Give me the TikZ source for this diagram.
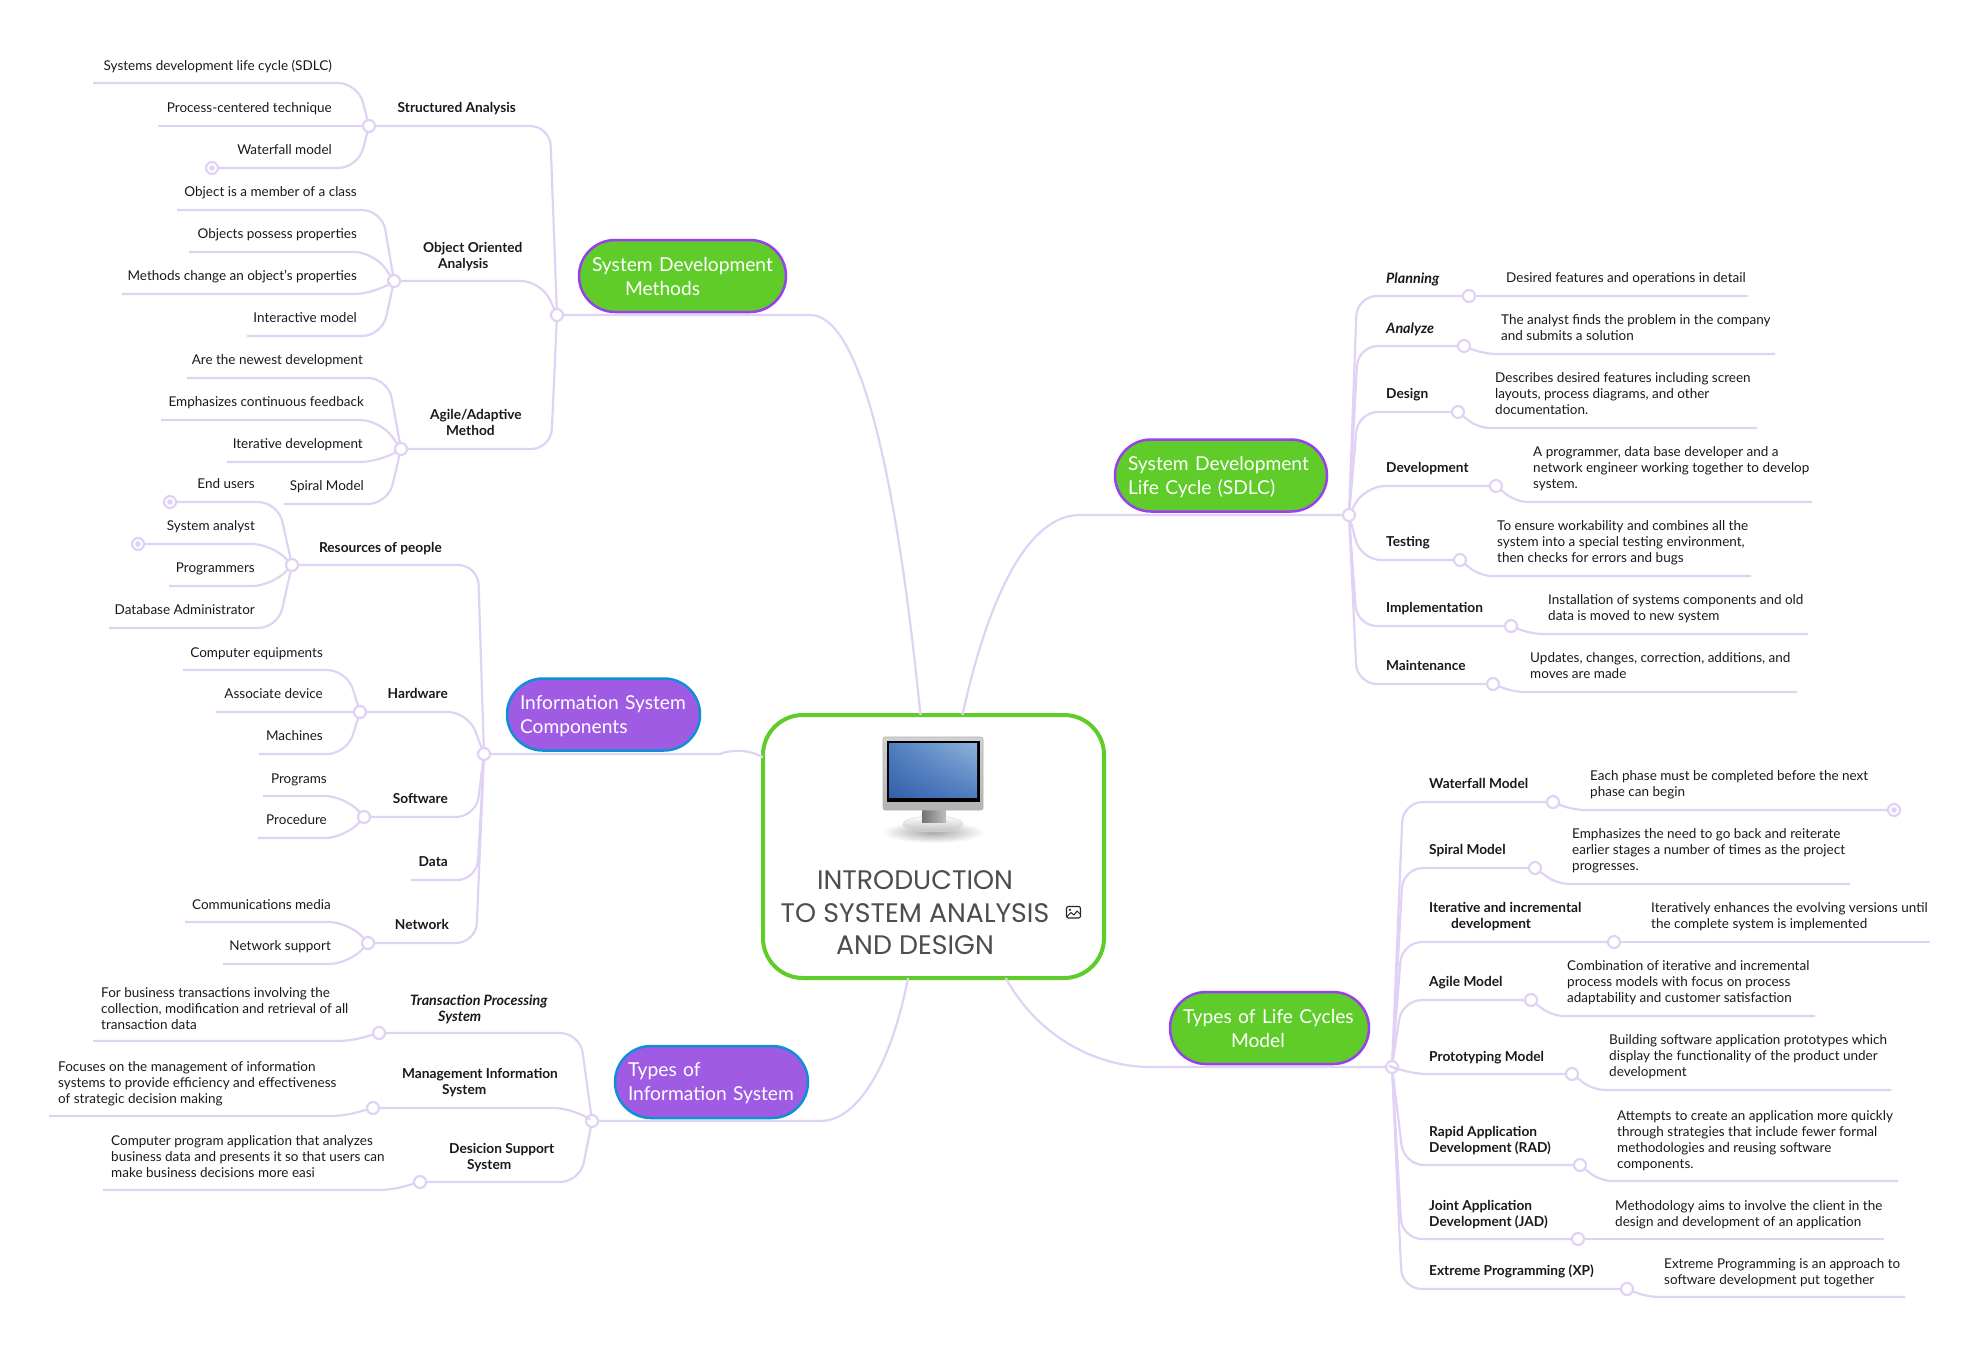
\documentclass[tikz,border=0pt]{standalone}
\usepackage{fontspec}
\setmainfont{Lato}
\newfontfamily\titlefont{Poppins}
\usetikzlibrary{shadings}
\definecolor{linecol}{HTML}{E0D2F5}
\definecolor{greenfill}{HTML}{5FCC29}
\definecolor{violetedge}{HTML}{9A3FF0}
\definecolor{violetfill}{HTML}{A05BE5}
\definecolor{blueedge}{HTML}{0F8FD6}
\definecolor{rootink}{HTML}{4A4E52}
\definecolor{screenlow}{HTML}{3560AC}
\definecolor{screenmid}{HTML}{4F7FC0}
\definecolor{screenhigh}{HTML}{8FB3DC}
\tikzset{
  branch/.style={draw=linecol,line width=2.2pt,rounded corners=20pt},
  twig/.style={draw=linecol,line width=2.2pt,rounded corners=12pt},
  hub/.style={circle,draw=linecol,line width=2.2pt,fill=white,minimum size=12pt,inner sep=0pt,outer sep=0pt},
  hubdot/.style={hub,path picture={\fill[linecol] (path picture bounding box.center) circle (2.8pt);}},
  % y of a text node is the centre of its last line
  leaf/.style={font=\fontsize{13.5}{16}\selectfont,align=left,inner sep=0pt,text height=13pt,text depth=3pt,text=black!90},
  head/.style={leaf,font=\fontsize{13.7}{16}\selectfont\bfseries},
  headit/.style={leaf,font=\fontsize{14.3}{16}\selectfont\bfseries\itshape},
  topic/.style={rectangle,rounded corners=36pt,line width=2.5pt,text=white,align=left,minimum height=72pt,inner xsep=13pt,inner ysep=0pt,outer sep=0pt,text depth=24pt,font=\fontsize{19.2}{24}\selectfont},
  greentopic/.style={topic,draw=violetedge,fill=greenfill},
  violettopic/.style={topic,draw=blueedge,fill=violetfill},
}
\begin{document}
\begin{tikzpicture}[x=1pt,y=-1pt]
\useasboundingbox (0,0) rectangle (1979,1345);

% central node
\node[rectangle,draw=greenfill,line width=4pt,fill=white,rounded corners=40pt,minimum width=341pt,minimum height=263pt,outer sep=0pt] (root) at (933.5,846.5) {};
\node[align=center,inner sep=0pt,text=rootink,font=\titlefont\fontsize{26.8}{32.5}\selectfont] (title) at (915,913) {INTRODUCTION\\TO SYSTEM ANALYSIS\\AND DESIGN};

% monitor
\shade[inner color=black!35,outer color=white] (933,832) ellipse [x radius=52,y radius=11];
\shade[top color=white,bottom color=black!25,draw=black!15,line width=.5pt] (933,824) ellipse [x radius=30,y radius=8];
\shade[left color=black!55,right color=black!25] (922,808) rectangle (946,822);
\shade[top color=black!18,bottom color=black!30,draw=black!30,line width=.6pt,rounded corners=2pt] (883,737) rectangle (983,810);
\fill[black] (887,741) rectangle (980,802);
\shade[lower left=screenlow,upper right=screenhigh,lower right=screenmid,upper left=screenmid] (889,743) rectangle (977,797);

% image icon
\draw[black!85,line width=1.1pt,rounded corners=2pt] (1066.5,906.5) rectangle (1080.5,918);
\fill[black!85] (1070,909.8) circle (1.3);
\draw[black!85,line width=1pt,line join=round] (1067,916.5) -- (1071,912.5) -- (1074,915) -- (1077,911) -- (1080,914);

% hubs
\node[hub] (hubMethods) at (557,315) {};
\node[hub] (hubSdlc) at (1349,515) {};
\node[hub] (hubInfo) at (484,754) {};
\node[hub] (hubLife) at (1392,1067) {};
\node[hub] (hubTypes) at (592,1121) {};
\node[hub] (hubStruct) at (369,126) {};
\node[hub] (hubObject) at (394,281) {};
\node[hub] (hubAgile) at (401,449) {};
\node[hub] (hubPeople) at (292,565) {};
\node[hub] (hubHard) at (360,712) {};
\node[hub] (hubSoft) at (364,817) {};
\node[hub] (hubNet) at (368,943) {};

% main connectors
\draw[branch] (hubMethods) -- (790,315) .. controls (870,315) and (903,540) .. (root);
\draw[branch] (hubSdlc) -- (1100,515) .. controls (1030,515) and (990,590) .. (root);
\draw[branch] (hubInfo) -- (700,754) .. controls (720,754) and (740,745) .. (root);
\draw[branch] (hubLife) -- (1170,1067) .. controls (1100,1067) and (1040,1040) .. (root);
\draw[branch] (hubTypes) -- (800,1121) .. controls (860,1121) and (892,1060) .. (root);

% topics
\node[greentopic,text width=181pt] (topicMethods) at (682.5,276) {\mbox{System Development}\\\hspace*{33pt}Methods};
\node[greentopic,text width=186pt] (topicSdlc) at (1221,475.5) {\mbox{System Development}\\Life Cycle (SDLC)};
\node[violettopic,text width=167pt] (topicInfo) at (603.5,714.5) {\mbox{Information System}\\Components};
\node[greentopic,text width=173pt] (topicLife) at (1269.5,1028) {\mbox{Types of Life Cycles}\\\hspace*{48pt}Model};
\node[violettopic,text width=167pt] (topicTypes) at (711.5,1082) {Types of\\\mbox{Information System}};

% system development methods
\draw[branch] (hubStruct) -- (550,126) -- (hubMethods);
\draw[branch] (hubObject) -- (541,281) -- (hubMethods);
\draw[branch] (hubAgile) -- (551,449) -- (hubMethods);
\node[head,anchor=east] (structured) at (516,107) {Structured Analysis};
\node[head,anchor=west] (objectOriented) at (423,263) {Object Oriented\\\hspace*{15pt}Analysis};
\node[head,anchor=west] (agileMethod) at (430,430) {Agile/Adaptive\\\hspace*{16pt}Method};

\node[leaf,anchor=east] (sdlcTerm) at (332,65) {Systems development life cycle (SDLC)};
\coordinate (sdlcEnd) at (93,83);
\draw[branch] (hubStruct) -- (358,83) -- (sdlcEnd);
\node[leaf,anchor=east] (processTerm) at (332,107) {Process-centered technique};
\coordinate (processEnd) at (158,126);
\draw[branch] (hubStruct) -- (processEnd);
\node[leaf,anchor=east] (waterTerm) at (332,149) {Waterfall model};
\node[hubdot] (waterEnd) at (212,168) {};
\draw[branch] (hubStruct) -- (358,168) -- (waterEnd);

\node[leaf,anchor=east] (memberTerm) at (357,191) {Object is a member of a class};
\coordinate (memberEnd) at (177,210);
\draw[branch] (hubObject) -- (382,210) -- (memberEnd);
\node[leaf,anchor=east] (possessTerm) at (357,233) {Objects possess properties};
\coordinate (possessEnd) at (189,252);
\draw[branch] (hubObject) -- (374,252) -- (possessEnd);
\node[leaf,anchor=east] (changeTerm) at (357,275) {Methods change an object’s properties};
\coordinate (changeEnd) at (122,294);
\draw[branch] (hubObject) -- (374,294) -- (changeEnd);
\node[leaf,anchor=east] (interTerm) at (357,317) {Interactive model};
\coordinate (interEnd) at (247,336);
\draw[branch] (hubObject) -- (382,336) -- (interEnd);

\node[leaf,anchor=east] (newestTerm) at (363,359) {Are the newest development};
\coordinate (newestEnd) at (187,378);
\draw[branch] (hubAgile) -- (388,378) -- (newestEnd);
\node[leaf,anchor=east] (feedTerm) at (364,401) {Emphasizes continuous feedback};
\coordinate (feedEnd) at (161,420);
\draw[branch] (hubAgile) -- (380,420) -- (feedEnd);
\node[leaf,anchor=east] (iterTerm) at (363,443) {Iterative development};
\coordinate (iterEnd) at (227,462);
\draw[branch] (hubAgile) -- (380,462) -- (iterEnd);
\node[leaf,anchor=east] (spiralTerm) at (364,485) {Spiral Model};
\coordinate (spiralEnd) at (284,504);
\draw[branch] (hubAgile) -- (388,504) -- (spiralEnd);

% information system components
\draw[branch] (hubPeople) -- (478,565) -- (hubInfo);
\draw[branch] (hubHard) -- (468,712) -- (hubInfo);
\draw[branch] (hubSoft) -- (476,817) -- (hubInfo);
\coordinate (dataEnd) at (411,880);
\draw[branch] (hubInfo) -- (477,880) -- (dataEnd);
\draw[branch] (hubNet) -- (476,943) -- (hubInfo);
\node[head,anchor=east] (people) at (442,547) {Resources of people};
\node[head,anchor=east] (hardware) at (448,693) {Hardware};
\node[head,anchor=east] (software) at (448,798) {Software};
\node[head,anchor=east] (data) at (448,861) {Data};
\node[head,anchor=east] (network) at (449,924) {Network};

\node[leaf,anchor=east] (usersTerm) at (255,483) {End users};
\node[hubdot] (usersEnd) at (170,502) {};
\draw[branch] (hubPeople) -- (278,502) -- (usersEnd);
\node[leaf,anchor=east] (analystTerm) at (255,525) {System analyst};
\node[hubdot] (analystEnd) at (138,544) {};
\draw[branch] (hubPeople) -- (272,544) -- (analystEnd);
\node[leaf,anchor=east] (progTerm) at (255,567) {Programmers};
\coordinate (progEnd) at (169,586);
\draw[branch] (hubPeople) -- (272,586) -- (progEnd);
\node[leaf,anchor=east] (dbTerm) at (255,609) {Database Administrator};
\coordinate (dbEnd) at (109,628);
\draw[branch] (hubPeople) -- (278,628) -- (dbEnd);

\node[leaf,anchor=east] (compTerm) at (323,652) {Computer equipments};
\coordinate (compEnd) at (183,670);
\draw[branch] (hubHard) -- (347,670) -- (compEnd);
\node[leaf,anchor=east] (assocTerm) at (323,693) {Associate device};
\coordinate (assocEnd) at (216,712);
\draw[branch] (hubHard) -- (assocEnd);
\node[leaf,anchor=east] (machTerm) at (323,735) {Machines};
\coordinate (machEnd) at (259,754);
\draw[branch] (hubHard) -- (347,754) -- (machEnd);

\node[leaf,anchor=east] (progsTerm) at (327,778) {Programs};
\coordinate (progsEnd) at (263,796);
\draw[branch] (hubSoft) -- (345,796) -- (progsEnd);
\node[leaf,anchor=east] (procTerm) at (327,819) {Procedure};
\coordinate (procEnd) at (258,838);
\draw[branch] (hubSoft) -- (345,838) -- (procEnd);

\node[leaf,anchor=east] (mediaTerm) at (331,904) {Communications media};
\coordinate (mediaEnd) at (185,922);
\draw[branch] (hubNet) -- (349,922) -- (mediaEnd);
\node[leaf,anchor=east] (suppTerm) at (331,945) {Network support};
\coordinate (suppEnd) at (223,964);
\draw[branch] (hubNet) -- (349,964) -- (suppEnd);

% types of information system
\node[hub] (hubTps) at (379,1033) {};
\node[hub] (hubMis) at (373,1108) {};
\node[hub] (hubDss) at (420,1182) {};
\draw[branch] (hubTps) -- (580,1033) -- (hubTypes);
\draw[branch] (hubMis) -- (574,1108) -- (hubTypes);
\draw[branch] (hubDss) -- (580,1182) -- (hubTypes);
\node[headit,anchor=west] (tps) at (410,1016) {Transaction Processing\\\hspace*{28pt}System};
\node[head,anchor=west] (mis) at (402,1089) {Management Information\\\hspace*{40pt}System};
\node[head,anchor=west] (dss) at (449,1164) {Desicion Support\\\hspace*{18pt}System};

\node[leaf,anchor=west] (tpsText) at (101,1024) {For business transactions involving the\\collection, modification and retrieval of all\\transaction data};
\coordinate (tpsEnd) at (93,1041);
\draw[twig] (hubTps) -- (350,1041) -- (tpsEnd);
\node[leaf,anchor=west] (misText) at (58,1098) {Focuses on the management of information\\systems to provide efficiency and effectiveness\\of strategic decision making};
\coordinate (misEnd) at (49,1116);
\draw[twig] (hubMis) -- (343,1116) -- (misEnd);
\node[leaf,anchor=west] (dssText) at (111,1172) {Computer program application that analyzes\\business data and presents it so that users can\\make business decisions more easi};
\coordinate (dssEnd) at (103,1190);
\draw[twig] (hubDss) -- (391,1190) -- (dssEnd);

% system development life cycle
\node[hub] (hubPlan) at (1469,296) {};
\node[hub] (hubAnalyze) at (1464,346) {};
\node[hub] (hubDesign) at (1458,412) {};
\node[hub] (hubDev) at (1496,486) {};
\node[hub] (hubTest) at (1460,560) {};
\node[hub] (hubImpl) at (1511,626) {};
\node[hub] (hubMaint) at (1493,684) {};
\draw[branch] (hubSdlc) -- (1357,296) -- (hubPlan);
\draw[branch] (hubSdlc) -- (1358,346) -- (hubAnalyze);
\draw[branch] (hubSdlc) -- (1358,412) -- (hubDesign);
\draw[branch] (hubSdlc) -- (1365,486) -- (hubDev);
\draw[branch] (hubSdlc) -- (1361,560) -- (hubTest);
\draw[branch] (hubSdlc) -- (1357,626) -- (hubImpl);
\draw[branch] (hubSdlc) -- (1357,684) -- (hubMaint);
\node[headit,anchor=west] (planning) at (1386,278) {Planning};
\node[headit,anchor=west] (analyze) at (1386,328) {Analyze};
\node[head,anchor=west] (design) at (1386,393) {Design};
\node[head,anchor=west] (development) at (1386,467) {Development};
\node[head,anchor=west] (testing) at (1386,541) {Testing};
\node[head,anchor=west] (implementation) at (1386,607) {Implementation};
\node[head,anchor=west] (maintenance) at (1386,665) {Maintenance};

\node[leaf,anchor=west] (planText) at (1506,277) {Desired features and operations in detail};
\coordinate (planEnd) at (1748,296);
\draw[twig] (hubPlan) -- (planEnd);
\node[leaf,anchor=west] (analyzeText) at (1501,335) {The analyst finds the problem in the company\\and submits a solution};
\coordinate (analyzeEnd) at (1775,354);
\draw[twig] (hubAnalyze) -- (1484,354) -- (analyzeEnd);
\node[leaf,anchor=west] (designText) at (1495,409) {Describes desired features including screen\\layouts, process diagrams, and other\\documentation.};
\coordinate (designEnd) at (1757,428);
\draw[twig] (hubDesign) -- (1478,428) -- (designEnd);
\node[leaf,anchor=west] (devText) at (1533,483) {A programmer, data base developer and a\\network engineer working together to develop\\system.};
\coordinate (devEnd) at (1812,502);
\draw[twig] (hubDev) -- (1516,502) -- (devEnd);
\node[leaf,anchor=west] (testText) at (1497,557) {To ensure workability and combines all the\\system into a special testing environment,\\then checks for errors and bugs};
\coordinate (testEnd) at (1751,576);
\draw[twig] (hubTest) -- (1480,576) -- (testEnd);
\node[leaf,anchor=west] (implText) at (1548,615) {Installation of systems components and old\\data is moved to new system};
\coordinate (implEnd) at (1808,634);
\draw[twig] (hubImpl) -- (1531,634) -- (implEnd);
\node[leaf,anchor=west] (maintText) at (1530,673) {Updates, changes, correction, additions, and\\moves are made};
\coordinate (maintEnd) at (1797,692);
\draw[twig] (hubMaint) -- (1513,692) -- (maintEnd);

% types of life cycles
\node[hub] (hubFall) at (1553,802) {};
\node[hub] (hubSpiral) at (1535,868) {};
\node[hub] (hubIter) at (1614,942) {};
\node[hub] (hubAgileM) at (1531,1000) {};
\node[hub] (hubProto) at (1572,1074) {};
\node[hub] (hubRad) at (1580,1165) {};
\node[hub] (hubJad) at (1578,1239) {};
\node[hub] (hubXp) at (1627,1289) {};
\draw[branch] (hubLife) -- (1403,802) -- (hubFall);
\draw[branch] (hubLife) -- (1403,868) -- (hubSpiral);
\draw[branch] (hubLife) -- (1402,942) -- (hubIter);
\draw[branch] (hubLife) -- (1402,1000) -- (hubAgileM);
\draw[branch] (hubLife) -- (1407,1074) -- (hubProto);
\draw[branch] (hubLife) -- (1404,1165) -- (hubRad);
\draw[branch] (hubLife) -- (1402,1239) -- (hubJad);
\draw[branch] (hubLife) -- (1402,1289) -- (hubXp);
\node[head,anchor=west] (fallModel) at (1429,783) {Waterfall Model};
\node[head,anchor=west] (spiralModel) at (1429,849) {Spiral Model};
\node[head,anchor=west] (iterModel) at (1429,923) {Iterative and incremental\\\hspace*{22pt}development};
\node[head,anchor=west] (agileModel) at (1429,981) {Agile Model};
\node[head,anchor=west] (protoModel) at (1429,1056) {Prototyping Model};
\node[head,anchor=west] (radModel) at (1429,1147) {Rapid Application\\Development (RAD)};
\node[head,anchor=west] (jadModel) at (1429,1221) {Joint Application\\Development (JAD)};
\node[head,anchor=west] (xpModel) at (1429,1270) {Extreme Programming (XP)};

\node[leaf,anchor=west] (fallText) at (1590,791) {Each phase must be completed before the next\\phase can begin};
\node[hubdot] (fallEnd) at (1894,810) {};
\draw[twig] (hubFall) -- (1573,810) -- (fallEnd);
\node[leaf,anchor=west] (spiralText) at (1572,865) {Emphasizes the need to go back and reiterate\\earlier stages a number of times as the project\\progresses.};
\coordinate (spiralTextEnd) at (1850,884);
\draw[twig] (hubSpiral) -- (1557,884) -- (spiralTextEnd);
\node[leaf,anchor=west] (iterText) at (1651,923) {Iteratively enhances the evolving versions until\\the complete system is implemented};
\coordinate (iterTextEnd) at (1930,942);
\draw[twig] (hubIter) -- (iterTextEnd);
\node[leaf,anchor=west] (agileText) at (1567,997) {Combination of iterative and incremental\\process models with focus on process\\adaptability and customer satisfaction};
\coordinate (agileTextEnd) at (1815,1016);
\draw[twig] (hubAgileM) -- (1552,1016) -- (agileTextEnd);
\node[leaf,anchor=west] (protoText) at (1609,1071) {Building software application prototypes which\\display the functionality of the product under\\development};
\coordinate (protoTextEnd) at (1891,1090);
\draw[twig] (hubProto) -- (1593,1090) -- (protoTextEnd);
\node[leaf,anchor=west] (radText) at (1617,1163) {Attempts to create an application more quickly\\through strategies that include fewer formal\\methodologies and reusing software\\components.};
\coordinate (radTextEnd) at (1898,1181);
\draw[twig] (hubRad) -- (1600,1181) -- (radTextEnd);
\node[leaf,anchor=west] (jadText) at (1615,1221) {Methodology aims to involve the client in the\\design and development of an application};
\coordinate (jadTextEnd) at (1884,1239);
\draw[twig] (hubJad) -- (jadTextEnd);
\node[leaf,anchor=west] (xpText) at (1664,1279) {Extreme Programming is an approach to\\software development put together};
\coordinate (xpTextEnd) at (1905,1297);
\draw[twig] (hubXp) -- (1647,1297) -- (xpTextEnd);
\end{tikzpicture}
\end{document}
